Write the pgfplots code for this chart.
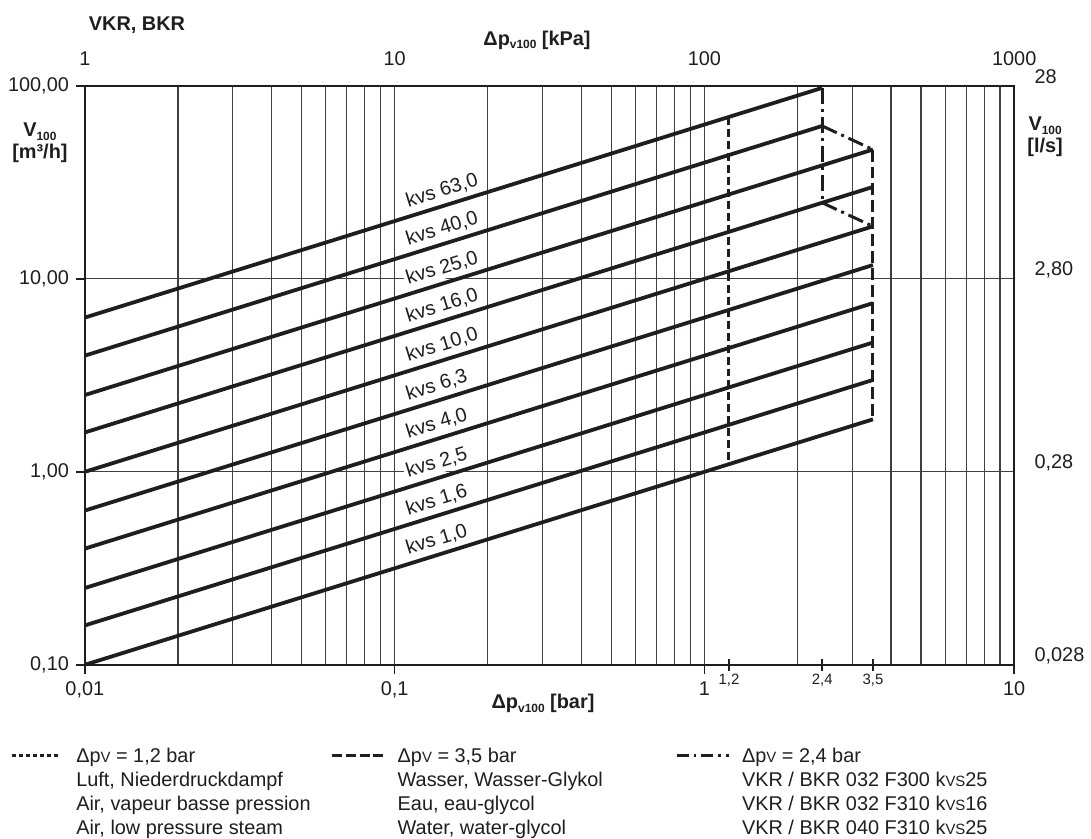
\documentclass[border=0pt]{standalone}
\usepackage{pgfplots}
\pgfplotsset{compat=1.18}
\usepackage{fontspec}
\setmainfont{Liberation Sans}
\definecolor{ink}{HTML}{1F1D1E}
\newcommand{\sub}[1]{\raisebox{-0.35ex}{\fontsize{6}{6}\selectfont #1}}
\newcommand{\smc}[1]{{\fontsize{7.5}{8}\selectfont #1}}
\tikzset{
  kvsline/.style={line width=1.9bp, draw=ink},
  kvs/.style={anchor=south west, rotate=17.3, fill=white, inner sep=1.2bp, outer sep=2bp, font=\fontsize{10}{12}\selectfont},
}
\begin{document}
\begin{tikzpicture}[every node/.append style={text=ink}]
\begin{axis}[
  name=main,
  scale only axis, width=465.5bp, height=290bp,
  xmode=log, ymode=log,
  xmin=0.01, xmax=10, ymin=0.1, ymax=100,
  axis line style={line width=0.8bp, draw=ink},
  xtick={0.01,0.1,1,10}, xticklabels={{0,01},{0,1},{1},{10}},
  ytick={0.1,1,10,100}, yticklabels={{0,10},{1,00},{10,00},{100,00}},
  minor xtick={0.02,0.03,0.04,0.05,0.06,0.07,0.08,0.09,0.2,0.3,0.4,0.5,0.6,0.7,0.8,0.9,2,3,4,5,6,7,8,9},
  minor ytick={},
  xtick pos=left, ytick pos=left,
  tick align=outside, major tick length=4.5bp, minor tick length=0pt,
  tick style={line width=0.8bp, draw=ink},
  xmajorgrids, xminorgrids, ymajorgrids,
  major grid style={line width=0.6bp, draw=ink!85},
  minor grid style={line width=0.6bp, draw=ink!85},
  ticklabel style={font=\fontsize{10}{12}\selectfont},
  xticklabel style={yshift=-0.5bp},
  extra x ticks={1.2,2.4,3.5},
  extra x tick labels={{1,2},{2,4},{3,5}},
  extra x tick style={grid=none, tick align=center, major tick length=6bp,
     xticklabel style={font=\fontsize{7.5}{8}\selectfont, yshift=2.5bp}},
]
% kvs lines: V = kvs * sqrt(dp)
\addplot[kvsline] coordinates {(0.01,6.3) (2.4,97.6)};
\addplot[kvsline] coordinates {(0.01,4.0) (2.4,61.97)};
\addplot[kvsline] coordinates {(0.01,2.5) (3.5,46.77)};
\addplot[kvsline] coordinates {(0.01,1.6) (3.5,29.93)};
\addplot[kvsline] coordinates {(0.01,1.0) (3.5,18.71)};
\addplot[kvsline] coordinates {(0.01,0.63) (3.5,11.79)};
\addplot[kvsline] coordinates {(0.01,0.4) (3.5,7.483)};
\addplot[kvsline] coordinates {(0.01,0.25) (3.5,4.677)};
\addplot[kvsline] coordinates {(0.01,0.16) (3.5,2.993)};
\addplot[kvsline] coordinates {(0.01,0.1) (3.5,1.871)};
% limit lines
\addplot[line width=1.5bp, draw=ink, dash pattern=on 4bp off 2bp] coordinates {(1.2,69.01) (1.2,1.095)};
\addplot[line width=1.5bp, draw=ink, dash pattern=on 6bp off 2.5bp] coordinates {(3.5,46.77) (3.5,1.871)};
\addplot[line width=1.5bp, draw=ink, dash pattern=on 8bp off 2.5bp on 1.5bp off 2.5bp] coordinates {(2.4,97.6) (2.4,24.79)};
\addplot[line width=1.5bp, draw=ink, dash pattern=on 8bp off 2.5bp on 1.5bp off 2.5bp] coordinates {(2.4,61.97) (3.5,46.77)};
\addplot[line width=1.5bp, draw=ink, dash pattern=on 8bp off 2.5bp on 1.5bp off 2.5bp] coordinates {(2.4,24.79) (3.5,18.71)};
% labels
\node[kvs] at (axis cs:0.108,20.70) {kvs 63,0};
\node[kvs] at (axis cs:0.108,13.15) {kvs 40,0};
\node[kvs] at (axis cs:0.108,8.216) {kvs 25,0};
\node[kvs] at (axis cs:0.108,5.258) {kvs 16,0};
\node[kvs] at (axis cs:0.108,3.286) {kvs 10,0};
\node[kvs] at (axis cs:0.108,2.070) {kvs 6,3};
\node[kvs] at (axis cs:0.108,1.3145) {kvs 4,0};
\node[kvs] at (axis cs:0.108,0.8216) {kvs 2,5};
\node[kvs] at (axis cs:0.108,0.5258) {kvs 1,6};
\node[kvs] at (axis cs:0.108,0.3286) {kvs 1,0};
\end{axis}
\begin{axis}[
  scale only axis, width=465.5bp, height=290bp,
  xmode=log, ymode=log,
  xmin=1, xmax=1000, ymin=0.028, ymax=28,
  axis x line*=top, axis y line*=right,
  axis line style={draw=none},
  xtick={1,10,100,1000}, xticklabels={{1},{10},{100},{1000}},
  ytick={0.028,0.28,2.8,28}, yticklabels={{0,028},{0,28},{2,80},{28}},
  xminorticks=false, yminorticks=false,
  major tick length=0pt,
  ticklabel style={font=\fontsize{10}{12}\selectfont},
  xticklabel style={yshift=6.5bp},
  yticklabel style={anchor=west, xshift=6.7bp, yshift=4.5bp},
]
\addplot[draw=none] coordinates {(1,0.028) (1000,28)};
\end{axis}
% axis titles
\node[font=\bfseries\fontsize{10}{12}\selectfont, anchor=west] at ([shift={(-1.5bp,320.5bp)}]main.south west) {VKR, BKR};
\node[font=\bfseries\fontsize{10}{12}\selectfont] at ([shift={(226.5bp,313bp)}]main.south west) {Δp\sub{v100} [kPa]};
\node[font=\bfseries\fontsize{10}{12}\selectfont] at ([shift={(229.5bp,-19.5bp)}]main.south west) {Δp\sub{v100} [bar]};
\node[font=\bfseries\fontsize{10}{12}\selectfont, align=center] at ([shift={(-22.5bp,261.5bp)}]main.south west) {V\sub{100}\\[-1bp][m³/h]};
\node[font=\bfseries\fontsize{10}{12}\selectfont, align=center] at ([shift={(481bp,264.5bp)}]main.south west) {V\sub{100}\\[-1bp][l/s]};
% legend samples
\draw[line width=1.2bp, draw=ink, dash pattern=on 2.2bp off 1.3bp] ([shift={(-36.5bp,-45.5bp)}]main.south west) -- ++(23.5bp,0);
\draw[line width=1.4bp, draw=ink, dash pattern=on 5bp off 1.8bp] ([shift={(124bp,-45.5bp)}]main.south west) -- ++(27bp,0);
\draw[line width=1.4bp, draw=ink, dash pattern=on 6bp off 2.5bp on 1.2bp off 2.5bp] ([shift={(296.5bp,-45.5bp)}]main.south west) -- ++(26bp,0);
% legend text
\begin{scope}[every node/.append style={anchor=base west, inner sep=0pt, font=\fontsize{10}{12}\selectfont}]
\node at ([shift={(-4.5bp,-49bp)}]main.south west) {Δp\smc{V} = 1,2 bar};
\node at ([shift={(-4.5bp,-61bp)}]main.south west) {Luft, Niederdruckdampf};
\node at ([shift={(-4.5bp,-73bp)}]main.south west) {Air, vapeur basse pression};
\node at ([shift={(-4.5bp,-85bp)}]main.south west) {Air, low pressure steam};
\node at ([shift={(156.5bp,-49bp)}]main.south west) {Δp\smc{V} = 3,5 bar};
\node at ([shift={(156.5bp,-61bp)}]main.south west) {Wasser, Wasser-Glykol};
\node at ([shift={(156.5bp,-73bp)}]main.south west) {Eau, eau-glycol};
\node at ([shift={(156.5bp,-85bp)}]main.south west) {Water, water-glycol};
\node at ([shift={(329bp,-49bp)}]main.south west) {Δp\smc{V} = 2,4 bar};
\node at ([shift={(329bp,-61bp)}]main.south west) {VKR / BKR 032 F300 k\smc{VS}25};
\node at ([shift={(329bp,-73bp)}]main.south west) {VKR / BKR 032 F310 k\smc{VS}16};
\node at ([shift={(329bp,-85bp)}]main.south west) {VKR / BKR 040 F310 k\smc{VS}25};
\end{scope}
% canvas extent
\path ([shift={(-42.5bp,-86.5bp)}]main.south west) rectangle ([shift={(503bp,333bp)}]main.south west);
\end{tikzpicture}
\end{document}
